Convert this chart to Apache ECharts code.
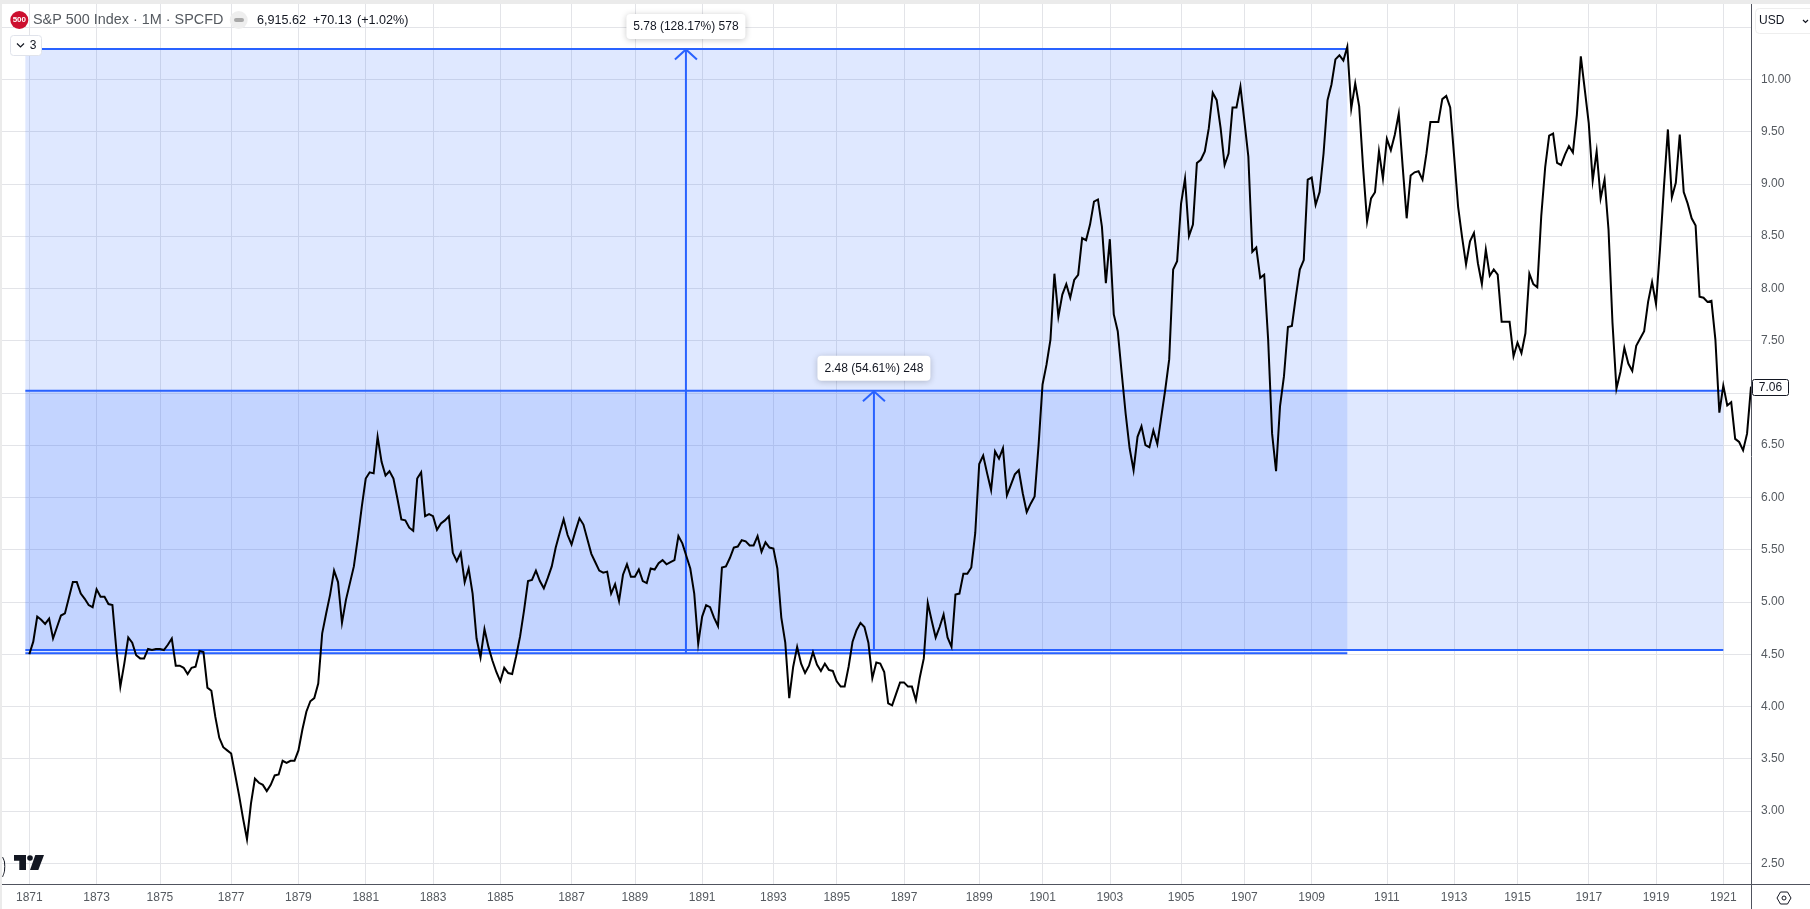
<!DOCTYPE html>
<html>
	<head>
		<meta charset="utf-8" />
		<title>S&amp;P 500 Index</title>
		<script type="text/javascript" src="https://cdn.jsdelivr.net/npm/echarts@6/dist/echarts.min.js"></script>
		<style>
			html, body { margin: 0; padding: 0; background: #fff; }
		</style>
	</head>
	<body>
		<div id="main" style="width:1810px; height:909px;"></div>
		<script>
			// one close per bar
			var closes = [
				4.50,4.62,4.86,4.83,4.79,4.84,4.65,4.76,4.87,4.89,5.04,5.19,5.19,5.08,5.03,4.97,4.95,5.12,5.05,5.05,
				4.98,4.97,4.54,4.19,4.41,4.66,4.61,4.49,4.46,4.46,4.55,4.54,4.55,4.55,4.54,4.59,4.65,4.39,4.39,4.37,
				4.31,4.37,4.38,4.53,4.52,4.18,4.15,3.90,3.70,3.61,3.58,3.55,3.35,3.15,2.93,2.73,3.07,3.31,3.27,3.25,
				3.19,3.25,3.34,3.35,3.48,3.46,3.48,3.48,3.58,3.78,3.95,4.05,4.08,4.22,4.70,4.89,5.07,5.30,5.19,4.80,
				5.02,5.18,5.34,5.61,5.91,6.18,6.24,6.23,6.58,6.34,6.21,6.25,6.18,5.99,5.79,5.78,5.71,5.68,6.18,6.24,
				5.82,5.84,5.82,5.69,5.75,5.78,5.82,5.47,5.39,5.47,5.19,5.32,5.08,4.65,4.47,4.74,4.57,4.44,4.33,4.24,
				4.37,4.32,4.31,4.48,4.67,4.92,5.20,5.21,5.30,5.20,5.13,5.23,5.34,5.52,5.66,5.79,5.64,5.55,5.68,5.80,
				5.74,5.60,5.46,5.38,5.30,5.28,5.29,5.08,5.17,5.01,5.26,5.36,5.24,5.24,5.31,5.20,5.18,5.32,5.31,5.37,
				5.40,5.36,5.38,5.40,5.63,5.56,5.44,5.32,5.08,4.60,4.86,4.97,4.95,4.85,4.77,5.33,5.34,5.42,5.52,5.53,
				5.59,5.58,5.54,5.54,5.63,5.48,5.57,5.52,5.51,5.32,4.85,4.61,4.08,4.38,4.57,4.41,4.32,4.39,4.52,4.40,
				4.34,4.41,4.35,4.34,4.24,4.19,4.19,4.38,4.62,4.73,4.80,4.76,4.61,4.27,4.42,4.41,4.33,4.03,4.01,4.12,
				4.23,4.23,4.19,4.19,4.06,4.28,4.46,4.99,4.82,4.66,4.76,4.88,4.66,4.57,5.07,5.08,5.27,5.27,5.33,5.66,
				6.32,6.40,6.23,6.07,6.44,6.37,6.47,6.02,6.12,6.22,6.26,6.04,5.86,5.94,6.01,6.50,7.08,7.27,7.51,8.14,
				7.73,7.94,8.04,7.91,8.08,8.13,8.48,8.46,8.61,8.83,8.85,8.59,8.05,8.47,7.75,7.59,7.19,6.80,6.47,6.26,
				6.58,6.68,6.50,6.48,6.64,6.51,6.77,7.03,7.32,8.18,8.26,8.81,9.05,8.50,8.61,9.20,9.23,9.31,9.53,9.87,
				9.80,9.53,9.18,9.29,9.73,9.73,9.93,9.60,9.26,8.35,8.39,8.10,8.13,7.51,6.61,6.25,6.87,7.16,7.63,7.64,
				7.92,8.18,8.27,9.04,9.06,8.80,8.92,9.29,9.80,9.95,10.19,10.23,10.18,10.31,9.72,9.96,9.74,9.15,8.64,8.86,
				8.92,9.31,9.05,9.43,9.32,9.47,9.67,9.16,8.67,9.08,9.11,9.12,9.04,9.29,9.59,9.59,9.59,9.81,9.84,9.73,
				9.26,8.78,8.49,8.23,8.45,8.53,8.24,8.04,8.37,8.12,8.18,8.13,7.68,7.68,7.68,7.35,7.48,7.38,7.57,8.14,
				8.04,8.01,8.69,9.16,9.46,9.48,9.20,9.18,9.28,9.36,9.30,9.66,10.22,9.90,9.58,9.03,9.31,8.86,9.04,8.56,
				7.67,7.04,7.20,7.43,7.28,7.21,7.45,7.52,7.59,7.87,8.06,7.85,8.37,8.97,9.52,8.87,9.01,9.47,8.92,8.81,
				8.67,8.60,7.92,7.91,7.87,7.88,7.51,6.81,7.07,6.88,6.91,6.56,6.53,6.45,6.61,7.06
			];
			// bar number where each year label sits
			var yearBars = [0,17,33,51,68,85,102,119,137,153,170,188,204,221,240,256,273,291,307,324,343,360,376,394,411,428];
			var yearLabels = [1871,1873,1875,1877,1879,1881,1883,1885,1887,1889,1891,1893,1895,1897,1899,1901,1903,1905,1907,1909,1911,1913,1915,1917,1919,1921];
			var priceGrid = [2.5,3,3.5,4,4.5,5,5.5,6,6.5,7,7.5,8,8.5,9,9.5,10,10.5];
			var priceLabels = [2.5,3,3.5,4,4.5,5,5.5,6,6.5,7,7.5,8,8.5,9,9.5,10];

			// the two measure tools: left bar, right bar, low, high, arrow bar
			var measureLeft = [-1, -1];
			var measureRight = [333, 428];
			var measureLow = [4.51, 4.54];
			var measureHigh = [10.29, 7.02];
			var measureArrow = [165.9, 213.4];
			var measureText = ['5.78 (128.17%) 578', '2.48 (54.61%) 248'];
			var measureBoxW = [119, 113];
			var lastPrice = '7.06';

			var FONT = '"Liberation Sans", Arial, sans-serif';
			var BLUE = '#2962ff';
			var GREY = '#555a60';

			var chartDom = document.getElementById('main');
			var myChart = echarts.init(chartDom, null, { renderer: 'canvas' });

			function renderMeasure(params, api) {
				var i = params.dataIndex;
				var lt = api.coord([api.value(0), api.value(3)]);
				var rb = api.coord([api.value(1), api.value(2)]);
				var ax = api.coord([api.value(4), api.value(3)])[0];
				var lineStyle = { stroke: BLUE, lineWidth: 2, fill: null };
				var w = measureBoxW[i];
				return {
					type: 'group',
					children: [
						{ type: 'rect', shape: { x: lt[0], y: lt[1], width: rb[0] - lt[0], height: rb[1] - lt[1] },
							style: { fill: 'rgba(41,98,255,0.15)' } },
						{ type: 'line', shape: { x1: lt[0], y1: lt[1], x2: rb[0], y2: lt[1] }, style: lineStyle },
						{ type: 'line', shape: { x1: lt[0], y1: rb[1], x2: rb[0], y2: rb[1] }, style: lineStyle },
						{ type: 'line', shape: { x1: ax, y1: rb[1], x2: ax, y2: lt[1] }, style: lineStyle },
						{ type: 'polyline', shape: { points: [[ax - 11, lt[1] + 10.5], [ax, lt[1] + 0.5], [ax + 11, lt[1] + 10.5]] }, style: lineStyle },
						{ type: 'rect', shape: { x: ax - w / 2, y: lt[1] - 35, width: w, height: 25, r: 4 },
							style: { fill: '#fff', shadowColor: 'rgba(0,0,0,0.22)', shadowBlur: 6, shadowOffsetY: 1 } },
						{ type: 'text', x: ax, y: lt[1] - 22.5,
							style: { text: measureText[i], fill: '#131722', font: '12px ' + FONT, align: 'center', verticalAlign: 'middle' } }
					]
				};
			}

			var option = {
				animation: false,
				backgroundColor: '#fff',
				grid: { left: 2, right: 58, top: 4, bottom: 24.3 },
				xAxis: {
					type: 'value',
					min: -6.9,
					max: 435.25,
					axisLine: { show: false },
					axisTick: { show: false, customValues: yearBars },
					axisLabel: {
						customValues: yearBars,
						formatter: function (v) { return String(yearLabels[yearBars.indexOf(v)]); },
						color: GREY, fontFamily: FONT, fontSize: 12, margin: 7
					},
					splitLine: { show: true, lineStyle: { color: '#e3e4e8', width: 1 } }
				},
				yAxis: {
					type: 'value',
					position: 'right',
					min: 2.295,
					max: 10.72,
					axisLine: { show: false },
					axisTick: { show: false, customValues: priceGrid },
					axisLabel: {
						customValues: priceLabels,
						formatter: function (v) { return v.toFixed(2); },
						color: GREY, fontFamily: FONT, fontSize: 12, margin: 9, padding: [2, 0, 0, 0]
					},
					splitLine: { show: true, lineStyle: { color: '#e3e4e8', width: 1 } }
				},
				series: [
					{
						type: 'custom',
						z: 1,
						clip: false,
						renderItem: renderMeasure,
						encode: { x: [0, 1, 4], y: [2, 3] },
						data: measureLeft.map(function (l, i) {
							return [l, measureRight[i], measureLow[i], measureHigh[i], measureArrow[i]];
						})
					},
					{
						type: 'line',
						z: 2,
						data: closes.map(function (v, i) { return [i, v]; }),
						showSymbol: false,
						smooth: false,
						clip: false,
						sampling: 'none',
						lineStyle: { color: '#000', width: 2, join: 'miter' }
					}
				],
				graphic: {
					elements: [
						// outer page strips
						{ type: 'rect', z: 20, shape: { x: 0, y: 0, width: 1810, height: 4 }, style: { fill: '#ebebeb' } },
						{ type: 'rect', z: 20, shape: { x: 0, y: 0, width: 2, height: 909 }, style: { fill: '#ebebeb' } },
						// axis frame
						{ type: 'line', z: 20, shape: { x1: 2, y1: 884.5, x2: 1810, y2: 884.5 }, style: { stroke: '#50535e', lineWidth: 1 } },
						{ type: 'line', z: 20, shape: { x1: 1751.5, y1: 4, x2: 1751.5, y2: 909 }, style: { stroke: '#50535e', lineWidth: 1 } },
						// legend
						{ type: 'circle', z: 21, shape: { cx: 19.3, cy: 20, r: 9 }, style: { fill: '#cc0f2f' } },
						{ type: 'text', z: 22, x: 19.3, y: 20, style: { text: '500', fill: '#fff', font: 'bold 8px ' + FONT, align: 'center', verticalAlign: 'middle' } },
						{ type: 'text', z: 22, x: 33, y: 20.5, style: { text: 'S&P 500 Index · 1M · SPCFD', fill: GREY, font: '14.4px ' + FONT, verticalAlign: 'middle' } },
						{ type: 'circle', z: 21, shape: { cx: 238.7, cy: 20, r: 9 }, style: { fill: '#eeeeee' } },
						{ type: 'rect', z: 22, shape: { x: 234, y: 18, width: 10, height: 4, r: 2 }, style: { fill: '#a8a8a8' } },
						{ type: 'text', z: 22, x: 257, y: 20.5, style: { text: '6,915.62', fill: '#131722', font: '12.6px ' + FONT, verticalAlign: 'middle' } },
						{ type: 'text', z: 22, x: 313, y: 20.5, style: { text: '+70.13', fill: '#131722', font: '12.6px ' + FONT, verticalAlign: 'middle' } },
						{ type: 'text', z: 22, x: 357, y: 20.5, style: { text: '(+1.02%)', fill: '#131722', font: '12.6px ' + FONT, verticalAlign: 'middle' } },
						{ type: 'rect', z: 21, shape: { x: 10.5, y: 35.5, width: 31, height: 20, r: 3 }, style: { fill: '#fff', stroke: '#e0e3eb', lineWidth: 1 } },
						{ type: 'polyline', z: 22, shape: { points: [[17, 43.5], [20.5, 47], [24, 43.5]] }, style: { stroke: '#131722', lineWidth: 1.2, fill: null } },
						{ type: 'text', z: 22, x: 33, y: 45.5, style: { text: '3', fill: '#131722', font: '12px ' + FONT, align: 'center', verticalAlign: 'middle' } },
						// currency button
						{ type: 'rect', z: 21, shape: { x: 1755.5, y: 8.5, width: 60, height: 25, r: 4 }, style: { fill: '#fff', stroke: '#eeeeee', lineWidth: 1 } },
						{ type: 'text', z: 22, x: 1759, y: 21, style: { text: 'USD', fill: '#131722', font: '12px ' + FONT, verticalAlign: 'middle' } },
						{ type: 'polyline', z: 22, shape: { points: [[1803, 20], [1805.5, 22.5], [1808, 20]] }, style: { stroke: '#131722', lineWidth: 1.2, fill: null } },
						// last price tag
						{ type: 'rect', z: 21, shape: { x: 1752.5, y: 379.5, width: 36, height: 16, r: 2 }, style: { fill: '#fff', stroke: '#131722', lineWidth: 1 } },
						{ type: 'text', z: 22, x: 1770.5, y: 388, style: { text: lastPrice, fill: '#131722', font: '12px ' + FONT, align: 'center', verticalAlign: 'middle' } },
						// settings icon
						{ type: 'polygon', z: 22, shape: { points: [[1777, 898], [1780.5, 892], [1787.5, 892], [1791, 898], [1787.5, 904], [1780.5, 904]] }, style: { fill: '#fff', stroke: '#131722', lineWidth: 1 } },
						{ type: 'circle', z: 22, shape: { cx: 1784, cy: 898, r: 2 }, style: { fill: '#fff', stroke: '#131722', lineWidth: 1 } },
						// logo
						{ type: 'polygon', z: 22, shape: { points: [[14, 855], [26, 855], [26, 870], [19.3, 870], [19.3, 860.7], [14, 860.7]] }, style: { fill: '#131722' } },
						{ type: 'circle', z: 22, shape: { cx: 30, cy: 858, r: 2.8 }, style: { fill: '#131722' } },
						{ type: 'polygon', z: 22, shape: { points: [[35.3, 855], [44, 855], [38.3, 870], [30, 870]] }, style: { fill: '#131722' } },
						{ type: 'polyline', z: 22, shape: { points: [[2.5, 857], [4.5, 862], [4.5, 871], [2.5, 877]], smooth: 0.3 }, style: { stroke: '#131722', lineWidth: 1, fill: null } }
					]
				}
			};
			myChart.setOption(option);
		</script>
	</body>
</html>
